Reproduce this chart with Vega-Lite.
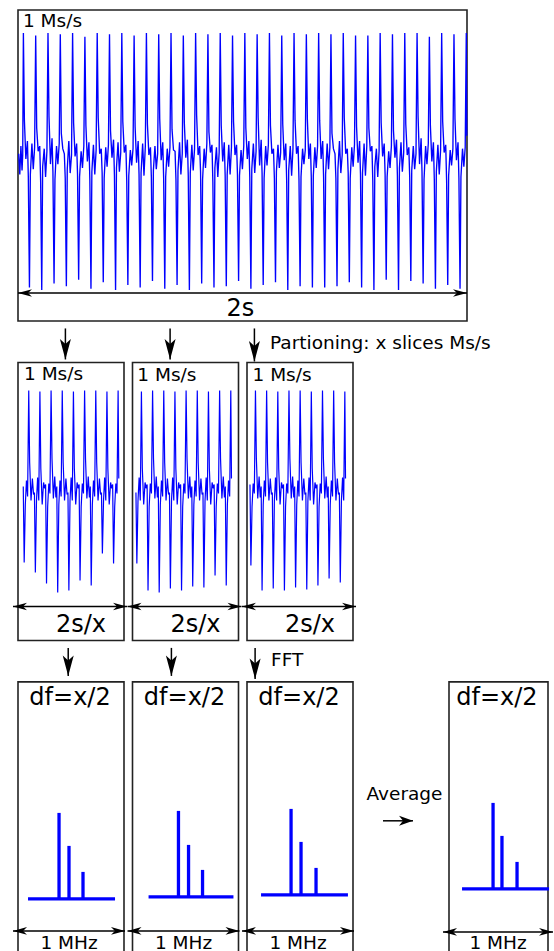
{
"padding": {"left": 11, "top": 9, "right": 0, "bottom": 0},
"background": "white",
"spacing": 4.45,
"datasets": {
"top": [
{"t":3,"v":0.06},{"t":8,"v":-0.1},{"t":13,"v":0.12},{"t":18,"v":-0.07},{"t":21,"v":0.05},
{"t":24,"v":1},{"t":28.5,"v":0.32},{"t":35,"v":0.02},{"t":42,"v":0.16},{"t":46,"v":-0.12},{"t":51,"v":-0.98},{"t":55,"v":-0.1},{"t":62,"v":0.14},{"t":68,"v":-0.06},{"t":74,"v":0.11},
{"t":78.8,"v":0.98},{"t":83.3,"v":0.26},{"t":89.8,"v":0.08},{"t":96.8,"v":0.12},{"t":100.8,"v":-0.15},{"t":105.8,"v":-1},{"t":109.8,"v":-0.04},{"t":116.8,"v":0.1},{"t":122.8,"v":-0.12},{"t":128.8,"v":0.08},
{"t":133.6,"v":1},{"t":138.1,"v":0.35},{"t":144.6,"v":-0.02},{"t":151.6,"v":0.18},{"t":155.6,"v":-0.08},{"t":160.6,"v":-0.95},{"t":164.6,"v":-0.14},{"t":171.6,"v":0.12},{"t":177.6,"v":-0.02},{"t":183.6,"v":0.14},
{"t":188.4,"v":0.99},{"t":192.9,"v":0.22},{"t":199.4,"v":0.1},{"t":206.4,"v":0.06},{"t":210.4,"v":-0.13},{"t":215.4,"v":-0.97},{"t":219.4,"v":-0.06},{"t":226.4,"v":0.16},{"t":232.4,"v":-0.09},{"t":238.4,"v":0.05},
{"t":243.2,"v":1},{"t":247.7,"v":0.3},{"t":254.2,"v":0.04},{"t":261.2,"v":0.14},{"t":265.2,"v":-0.1},{"t":270.2,"v":-0.92},{"t":274.2,"v":-0.12},{"t":281.2,"v":0.08},{"t":287.2,"v":-0.05},{"t":293.2,"v":0.12},
{"t":298,"v":0.97},{"t":302.5,"v":0.28},{"t":309,"v":0},{"t":316,"v":0.15},{"t":320,"v":-0.14},{"t":325,"v":-0.99},{"t":329,"v":-0.08},{"t":336,"v":0.13},{"t":342,"v":-0.1},{"t":348,"v":0.09},
{"t":352.8,"v":1},{"t":357.3,"v":0.34},{"t":363.8,"v":0.06},{"t":370.8,"v":0.1},{"t":374.8,"v":-0.09},{"t":379.8,"v":-0.94},{"t":383.8,"v":-0.13},{"t":390.8,"v":0.11},{"t":396.8,"v":-0.04},{"t":402.8,"v":0.13},
{"t":407.6,"v":0.99},{"t":412.1,"v":0.24},{"t":418.6,"v":0.03},{"t":425.6,"v":0.17},{"t":429.6,"v":-0.11},{"t":434.6,"v":-1},{"t":438.6,"v":-0.05},{"t":445.6,"v":0.15},{"t":451.6,"v":-0.08},{"t":457.6,"v":0.07},
{"t":462.4,"v":1},{"t":466.9,"v":0.31},{"t":473.4,"v":0.07},{"t":480.4,"v":0.13},{"t":484.4,"v":-0.15},{"t":489.4,"v":-0.96},{"t":493.4,"v":-0.11},{"t":500.4,"v":0.09},{"t":506.4,"v":-0.03},{"t":512.4,"v":0.1},
{"t":517.2,"v":0.98},{"t":521.7,"v":0.27},{"t":528.2,"v":-0.01},{"t":535.2,"v":0.16},{"t":539.2,"v":-0.1},{"t":544.2,"v":-0.98},{"t":548.2,"v":-0.09},{"t":555.2,"v":0.14},{"t":561.2,"v":-0.11},{"t":567.2,"v":0.12},
{"t":572,"v":1},{"t":576.5,"v":0.29},{"t":583,"v":0.05},{"t":590,"v":0.11},{"t":594,"v":-0.12},{"t":599,"v":-0.93},{"t":603,"v":-0.07},{"t":610,"v":0.12},{"t":616,"v":-0.06},{"t":622,"v":0.06},
{"t":626.8,"v":0.99},{"t":631.3,"v":0.33},{"t":637.8,"v":0.01},{"t":644.8,"v":0.15},{"t":648.8,"v":-0.13},{"t":653.8,"v":-0.99},{"t":657.8,"v":-0.12},{"t":664.8,"v":0.1},{"t":670.8,"v":-0.04},{"t":676.8,"v":0.11},
{"t":681.6,"v":1},{"t":686.1,"v":0.25},{"t":692.6,"v":0.09},{"t":699.6,"v":0.08},{"t":703.6,"v":-0.14},{"t":708.6,"v":-0.96},{"t":712.6,"v":-0.07},{"t":719.6,"v":0.15},{"t":725.6,"v":-0.1},{"t":731.6,"v":0.06},
{"t":736.4,"v":0.98},{"t":740.9,"v":0.3},{"t":747.4,"v":0.03},{"t":754.4,"v":0.17},{"t":758.4,"v":-0.11},{"t":763.4,"v":-1},{"t":767.4,"v":-0.09},{"t":774.4,"v":0.13},{"t":780.4,"v":-0.07},{"t":786.4,"v":0.1},
{"t":791.2,"v":1},{"t":795.7,"v":0.36},{"t":802.2,"v":0.05},{"t":809.2,"v":0.12},{"t":813.2,"v":-0.08},{"t":818.2,"v":-0.95},{"t":822.2,"v":-0.14},{"t":829.2,"v":0.1},{"t":835.2,"v":-0.05},{"t":841.2,"v":0.14},
{"t":846,"v":0.99},{"t":850.5,"v":0.23},{"t":857,"v":0.07},{"t":864,"v":0.13},{"t":868,"v":-0.16},{"t":873,"v":-0.98},{"t":877,"v":-0.05},{"t":884,"v":0.11},{"t":890,"v":-0.12},{"t":896,"v":0.07},
{"t":900.8,"v":1},{"t":905.3,"v":0.28},{"t":911.8,"v":0},{"t":918.8,"v":0.15},{"t":922.8,"v":-0.11},{"t":927.8,"v":-0.97},{"t":931.8,"v":-0.1},{"t":938.8,"v":0.13},{"t":944.8,"v":-0.1},{"t":950.8,"v":0.11},
{"t":955.6,"v":0.98},{"t":960.1,"v":0.31},{"t":966.6,"v":0.05},{"t":973.6,"v":0.13},{"t":977.6,"v":-0.1},{"t":982.6,"v":-0.93},{"t":986.6,"v":-0.11},{"t":993.6,"v":0.09},{"t":999.6,"v":-0.06},{"t":1005.6,"v":0.12},
{"t":1010.4,"v":1},{"t":1014.9,"v":0.26},{"t":1021.4,"v":0.02},{"t":1028.4,"v":0.16},{"t":1032.4,"v":-0.12},{"t":1037.4,"v":-0.99},{"t":1041.4,"v":-0.06},{"t":1048.4,"v":0.14},{"t":1054.4,"v":-0.09},{"t":1060.4,"v":0.08},
{"t":1065.2,"v":0.99},{"t":1069.7,"v":0.34},{"t":1076.2,"v":-0.03},{"t":1083.2,"v":0.17},{"t":1087.2,"v":-0.09},{"t":1092.2,"v":-0.96},{"t":1096.2,"v":-0.13},{"t":1103.2,"v":0.12},{"t":1109.2,"v":-0.03},{"t":1115.2,"v":0.13},
{"t":1120,"v":1},{"t":1124.5,"v":0.28},{"t":1131,"v":0.06},{"t":1138,"v":0.1},{"t":1142,"v":-0.13},{"t":1147,"v":-0.94},{"t":1151,"v":-0.08},{"t":1158,"v":0.13},{"t":1164,"v":-0.05},{"t":1170,"v":0.07},
{"t":1174.8,"v":0.98},{"t":1179.3,"v":0.29},{"t":1185.8,"v":0.01},{"t":1192.8,"v":0.14},{"t":1196.8,"v":-0.15},{"t":1201.8,"v":-1},{"t":1205.8,"v":-0.07},{"t":1212.8,"v":0.12},{"t":1218.8,"v":-0.11},{"t":1224.8,"v":0.1},
{"t":1229.6,"v":1},{"t":1234.1,"v":0.32},{"t":1240.6,"v":0.06},{"t":1247.6,"v":0.12},{"t":1251.6,"v":-0.14},{"t":1256.6,"v":-0.97},{"t":1260.6,"v":-0.12},{"t":1267.6,"v":0.1},{"t":1273.6,"v":-0.02},{"t":1279.6,"v":0.09},
{"t":1284.4,"v":0.99},{"t":1288.9,"v":0.33},{"t":1295.4,"v":0.02},{"t":1302.4,"v":0.14},{"t":1306.4,"v":-0.12},{"t":1311.4,"v":-0.98},{"t":1315.4,"v":-0.11},{"t":1322.4,"v":0.11},{"t":1328.4,"v":-0.05},{"t":1334.4,"v":0.12},
{"t":1339.2,"v":1},{"t":1343.7,"v":0.32},{"t":1350.2,"v":0.02},{"t":1357.2,"v":0.16},{"t":1361.2,"v":-0.12},{"t":1366.2,"v":-0.98},{"t":1370.2,"v":-0.1},{"t":1377.2,"v":0.14},{"t":1383.2,"v":-0.06},{"t":1389.2,"v":0.11},
{"t":1394,"v":0.99},{"t":1398.5,"v":0.22},{"t":1405,"v":0.1},{"t":1412,"v":0.06},{"t":1416,"v":-0.13},{"t":1421,"v":-0.97},{"t":1425,"v":-0.06},{"t":1432,"v":0.16},{"t":1438,"v":-0.09},{"t":1444,"v":0.05},
{"t":1448.8,"v":1},{"t":1453.3,"v":0.34},{"t":1459.8,"v":0.06},{"t":1466.8,"v":0.1},{"t":1470.8,"v":-0.09},{"t":1475.8,"v":-0.94},{"t":1479.8,"v":-0.13},{"t":1486.8,"v":0.11},{"t":1492.8,"v":-0.04},{"t":1498.8,"v":0.13},
{"t":1503.6,"v":0.98},{"t":1508.1,"v":0.27},{"t":1514.6,"v":-0.01},{"t":1521.6,"v":0.16},{"t":1525.6,"v":-0.1},{"t":1530.6,"v":-0.98},{"t":1534.6,"v":-0.09},{"t":1541.6,"v":0.14},{"t":1547.6,"v":-0.11},{"t":1553.6,"v":0.12},
{"t":1558.4,"v":0.98},{"t":1562.9,"v":0.26},{"t":1569.4,"v":0.08},{"t":1576.4,"v":0.12},{"t":1580.4,"v":-0.15},{"t":1585.4,"v":-1},{"t":1589.4,"v":-0.04},{"t":1596.4,"v":0.1},{"t":1602.4,"v":-0.12},{"t":1608.4,"v":0.08},
{"t":1613.2,"v":1},{"t":1617.7,"v":0.3},{"t":1624.2,"v":0.04},{"t":1631.2,"v":0.14},{"t":1635.2,"v":-0.1},{"t":1640.2,"v":-0.92},{"t":1644.2,"v":-0.12},{"t":1651.2,"v":0.08},{"t":1657.2,"v":-0.05},{"t":1663.2,"v":0.12},
{"t":1668,"v":0.99},{"t":1672.5,"v":0.24},{"t":1679,"v":0.03},{"t":1686,"v":0.17},{"t":1690,"v":-0.11},{"t":1695,"v":-1},{"t":1699,"v":-0.05},{"t":1706,"v":0.15},{"t":1712,"v":-0.08},{"t":1718,"v":0.07},
{"t":1722.8,"v":1},{"t":1727.3,"v":0.29},{"t":1733.8,"v":0.05},{"t":1740.8,"v":0.11},{"t":1744.8,"v":-0.12},{"t":1749.8,"v":-0.93},{"t":1753.8,"v":-0.07},{"t":1760.8,"v":0.12},{"t":1766.8,"v":-0.06},{"t":1772.8,"v":0.06},
{"t":1777.6,"v":1},{"t":1782.1,"v":0.35},{"t":1788.6,"v":-0.02},{"t":1795.6,"v":0.18},{"t":1799.6,"v":-0.08},{"t":1804.6,"v":-0.95},{"t":1808.6,"v":-0.14},{"t":1815.6,"v":0.12},{"t":1821.6,"v":-0.02},{"t":1827.6,"v":0.14},
{"t":1832.4,"v":0.97},{"t":1836.9,"v":0.28},{"t":1843.4,"v":0},{"t":1850.4,"v":0.15},{"t":1854.4,"v":-0.14},{"t":1859.4,"v":-0.99},{"t":1863.4,"v":-0.08},{"t":1870.4,"v":0.13},{"t":1876.4,"v":-0.1},{"t":1882.4,"v":0.09},
{"t":1887.2,"v":1},{"t":1891.7,"v":0.31},{"t":1898.2,"v":0.07},{"t":1905.2,"v":0.13},{"t":1909.2,"v":-0.15},{"t":1914.2,"v":-0.96},{"t":1918.2,"v":-0.11},{"t":1925.2,"v":0.09},{"t":1931.2,"v":-0.03},{"t":1937.2,"v":0.1},
{"t":1942,"v":0.99},{"t":1946.5,"v":0.33},{"t":1953,"v":0.01},{"t":1960,"v":0.15},{"t":1964,"v":-0.13},{"t":1969,"v":-0.99},{"t":1973,"v":-0.12},{"t":1980,"v":0.1},{"t":1986,"v":-0.04},{"t":1992,"v":0.11},
{"t":1996.8,"v":1},{"t":1999,"v":0.2}
],
"slices": [
{"s":1,"t":45,"v":0.04},{"s":1,"t":49,"v":-0.72},{"s":1,"t":54,"v":-0.14},{"s":1,"t":59,"v":0.1},{"s":1,"t":64,"v":-0.06},{"s":1,"t":69,"v":1},{"s":1,"t":73,"v":0.28},{"s":1,"t":79,"v":-0.1},{"s":1,"t":85,"v":0.12},{"s":1,"t":90,"v":-0.04},
{"s":1,"t":94,"v":-0.02},{"s":1,"t":98,"v":-0.82},{"s":1,"t":103,"v":-0.1},{"s":1,"t":108,"v":0.13},{"s":1,"t":113,"v":-0.1},{"s":1,"t":118,"v":0.99},{"s":1,"t":122,"v":0.22},{"s":1,"t":128,"v":-0.14},{"s":1,"t":134,"v":0.08},{"s":1,"t":139,"v":0.02},
{"s":1,"t":143,"v":0.06},{"s":1,"t":147,"v":-0.93},{"s":1,"t":152,"v":-0.16},{"s":1,"t":157,"v":0.07},{"s":1,"t":162,"v":-0.03},{"s":1,"t":167,"v":1},{"s":1,"t":171,"v":0.32},{"s":1,"t":177,"v":-0.08},{"s":1,"t":183,"v":0.14},{"s":1,"t":188,"v":-0.07},
{"s":1,"t":192,"v":0.04},{"s":1,"t":196,"v":-1.02},{"s":1,"t":201,"v":-0.14},{"s":1,"t":206,"v":0.1},{"s":1,"t":211,"v":-0.06},{"s":1,"t":216,"v":1},{"s":1,"t":220,"v":0.28},{"s":1,"t":226,"v":-0.1},{"s":1,"t":232,"v":0.12},{"s":1,"t":237,"v":-0.04},
{"s":1,"t":241,"v":-0.02},{"s":1,"t":245,"v":-1},{"s":1,"t":250,"v":-0.1},{"s":1,"t":255,"v":0.13},{"s":1,"t":260,"v":-0.1},{"s":1,"t":265,"v":0.99},{"s":1,"t":269,"v":0.22},{"s":1,"t":275,"v":-0.14},{"s":1,"t":281,"v":0.08},{"s":1,"t":286,"v":0.02},
{"s":1,"t":290,"v":0.06},{"s":1,"t":294,"v":-0.9},{"s":1,"t":299,"v":-0.16},{"s":1,"t":304,"v":0.07},{"s":1,"t":309,"v":-0.03},{"s":1,"t":314,"v":1},{"s":1,"t":318,"v":0.32},{"s":1,"t":324,"v":-0.08},{"s":1,"t":330,"v":0.14},{"s":1,"t":335,"v":-0.07},
{"s":1,"t":339,"v":0.04},{"s":1,"t":343,"v":-0.95},{"s":1,"t":348,"v":-0.14},{"s":1,"t":353,"v":0.1},{"s":1,"t":358,"v":-0.06},{"s":1,"t":363,"v":1},{"s":1,"t":367,"v":0.28},{"s":1,"t":373,"v":-0.1},{"s":1,"t":379,"v":0.12},{"s":1,"t":384,"v":-0.04},
{"s":1,"t":388,"v":-0.02},{"s":1,"t":392,"v":-0.63},{"s":1,"t":397,"v":-0.1},{"s":1,"t":402,"v":0.13},{"s":1,"t":407,"v":-0.1},{"s":1,"t":412,"v":0.99},{"s":1,"t":416,"v":0.22},{"s":1,"t":422,"v":-0.14},{"s":1,"t":428,"v":0.08},{"s":1,"t":433,"v":0.02},
{"s":1,"t":437,"v":0.06},{"s":1,"t":441,"v":-0.73},{"s":1,"t":446,"v":-0.16},{"s":1,"t":451,"v":0.07},{"s":1,"t":456,"v":-0.03},{"s":1,"t":461,"v":1},{"s":1,"t":464,"v":0.12},
{"s":2,"t":537,"v":-0.02},{"s":2,"t":541,"v":-0.73},{"s":2,"t":546,"v":-0.1},{"s":2,"t":551,"v":0.13},{"s":2,"t":556,"v":-0.1},{"s":2,"t":561,"v":0.99},{"s":2,"t":565,"v":0.22},{"s":2,"t":571,"v":-0.14},{"s":2,"t":577,"v":0.08},{"s":2,"t":582,"v":0.02},
{"s":2,"t":586,"v":0.06},{"s":2,"t":590,"v":-1},{"s":2,"t":595,"v":-0.16},{"s":2,"t":600,"v":0.07},{"s":2,"t":605,"v":-0.03},{"s":2,"t":610,"v":1},{"s":2,"t":614,"v":0.32},{"s":2,"t":620,"v":-0.08},{"s":2,"t":626,"v":0.14},{"s":2,"t":631,"v":-0.07},
{"s":2,"t":635,"v":0.04},{"s":2,"t":639,"v":-1.02},{"s":2,"t":644,"v":-0.14},{"s":2,"t":649,"v":0.1},{"s":2,"t":654,"v":-0.06},{"s":2,"t":659,"v":1},{"s":2,"t":663,"v":0.28},{"s":2,"t":669,"v":-0.1},{"s":2,"t":675,"v":0.12},{"s":2,"t":680,"v":-0.04},
{"s":2,"t":684,"v":-0.02},{"s":2,"t":688,"v":-0.98},{"s":2,"t":693,"v":-0.1},{"s":2,"t":698,"v":0.13},{"s":2,"t":703,"v":-0.1},{"s":2,"t":708,"v":0.99},{"s":2,"t":712,"v":0.22},{"s":2,"t":718,"v":-0.14},{"s":2,"t":724,"v":0.08},{"s":2,"t":729,"v":0.02},
{"s":2,"t":733,"v":0.06},{"s":2,"t":737,"v":-1},{"s":2,"t":742,"v":-0.16},{"s":2,"t":747,"v":0.07},{"s":2,"t":752,"v":-0.03},{"s":2,"t":757,"v":1},{"s":2,"t":761,"v":0.32},{"s":2,"t":767,"v":-0.08},{"s":2,"t":773,"v":0.14},{"s":2,"t":778,"v":-0.07},
{"s":2,"t":782,"v":0.04},{"s":2,"t":786,"v":-0.96},{"s":2,"t":791,"v":-0.14},{"s":2,"t":796,"v":0.1},{"s":2,"t":801,"v":-0.06},{"s":2,"t":806,"v":1},{"s":2,"t":810,"v":0.28},{"s":2,"t":816,"v":-0.1},{"s":2,"t":822,"v":0.12},{"s":2,"t":827,"v":-0.04},
{"s":2,"t":831,"v":-0.02},{"s":2,"t":835,"v":-0.97},{"s":2,"t":840,"v":-0.1},{"s":2,"t":845,"v":0.13},{"s":2,"t":850,"v":-0.1},{"s":2,"t":855,"v":0.99},{"s":2,"t":859,"v":0.22},{"s":2,"t":865,"v":-0.14},{"s":2,"t":871,"v":0.08},{"s":2,"t":876,"v":0.02},
{"s":2,"t":880,"v":0.06},{"s":2,"t":884,"v":-0.85},{"s":2,"t":889,"v":-0.16},{"s":2,"t":894,"v":0.07},{"s":2,"t":899,"v":-0.03},{"s":2,"t":904,"v":1},{"s":2,"t":908,"v":0.32},{"s":2,"t":914,"v":-0.08},{"s":2,"t":920,"v":0.14},{"s":2,"t":925,"v":-0.07},
{"s":2,"t":929,"v":0.04},{"s":2,"t":933,"v":-0.95},{"s":2,"t":938,"v":-0.14},{"s":2,"t":943,"v":0.1},{"s":2,"t":948,"v":-0.06},{"s":2,"t":953,"v":1},{"s":2,"t":956,"v":0.12},
{"s":3,"t":1035,"v":0.06},{"s":3,"t":1039,"v":-0.75},{"s":3,"t":1044,"v":-0.16},{"s":3,"t":1049,"v":0.07},{"s":3,"t":1054,"v":-0.03},{"s":3,"t":1059,"v":1},{"s":3,"t":1063,"v":0.32},{"s":3,"t":1069,"v":-0.08},{"s":3,"t":1075,"v":0.14},{"s":3,"t":1080,"v":-0.07},
{"s":3,"t":1084,"v":0.04},{"s":3,"t":1088,"v":-1},{"s":3,"t":1093,"v":-0.14},{"s":3,"t":1098,"v":0.1},{"s":3,"t":1103,"v":-0.06},{"s":3,"t":1108,"v":1},{"s":3,"t":1112,"v":0.28},{"s":3,"t":1118,"v":-0.1},{"s":3,"t":1124,"v":0.12},{"s":3,"t":1129,"v":-0.04},
{"s":3,"t":1133,"v":-0.02},{"s":3,"t":1137,"v":-0.98},{"s":3,"t":1142,"v":-0.1},{"s":3,"t":1147,"v":0.13},{"s":3,"t":1152,"v":-0.1},{"s":3,"t":1157,"v":0.99},{"s":3,"t":1161,"v":0.22},{"s":3,"t":1167,"v":-0.14},{"s":3,"t":1173,"v":0.08},{"s":3,"t":1178,"v":0.02},
{"s":3,"t":1182,"v":0.06},{"s":3,"t":1186,"v":-1},{"s":3,"t":1191,"v":-0.16},{"s":3,"t":1196,"v":0.07},{"s":3,"t":1201,"v":-0.03},{"s":3,"t":1206,"v":1},{"s":3,"t":1210,"v":0.32},{"s":3,"t":1216,"v":-0.08},{"s":3,"t":1222,"v":0.14},{"s":3,"t":1227,"v":-0.07},
{"s":3,"t":1231,"v":0.04},{"s":3,"t":1235,"v":-0.97},{"s":3,"t":1240,"v":-0.14},{"s":3,"t":1245,"v":0.1},{"s":3,"t":1250,"v":-0.06},{"s":3,"t":1255,"v":1},{"s":3,"t":1259,"v":0.28},{"s":3,"t":1265,"v":-0.1},{"s":3,"t":1271,"v":0.12},{"s":3,"t":1276,"v":-0.04},
{"s":3,"t":1280,"v":-0.02},{"s":3,"t":1284,"v":-0.99},{"s":3,"t":1289,"v":-0.1},{"s":3,"t":1294,"v":0.13},{"s":3,"t":1299,"v":-0.1},{"s":3,"t":1304,"v":0.99},{"s":3,"t":1308,"v":0.22},{"s":3,"t":1314,"v":-0.14},{"s":3,"t":1320,"v":0.08},{"s":3,"t":1325,"v":0.02},
{"s":3,"t":1329,"v":0.06},{"s":3,"t":1333,"v":-0.95},{"s":3,"t":1338,"v":-0.16},{"s":3,"t":1343,"v":0.07},{"s":3,"t":1348,"v":-0.03},{"s":3,"t":1353,"v":1},{"s":3,"t":1357,"v":0.32},{"s":3,"t":1363,"v":-0.08},{"s":3,"t":1369,"v":0.14},{"s":3,"t":1374,"v":-0.07},
{"s":3,"t":1378,"v":0.04},{"s":3,"t":1382,"v":-0.88},{"s":3,"t":1387,"v":-0.14},{"s":3,"t":1392,"v":0.1},{"s":3,"t":1397,"v":-0.06},{"s":3,"t":1402,"v":1},{"s":3,"t":1406,"v":0.28},{"s":3,"t":1412,"v":-0.1},{"s":3,"t":1418,"v":0.12},{"s":3,"t":1423,"v":-0.04},
{"s":3,"t":1427,"v":-0.02},{"s":3,"t":1431,"v":-0.92},{"s":3,"t":1436,"v":-0.1},{"s":3,"t":1441,"v":0.13},{"s":3,"t":1446,"v":-0.1},{"s":3,"t":1451,"v":0.99},{"s":3,"t":1454,"v":0.12}
],
"floors": [
{"p":1,"f":0.134,"f2":0.911,"m":0},
{"p":2,"f":0.188,"f2":0.946,"m":0.02},
{"p":3,"f":0.17,"f2":0.946,"m":0.04},
{"p":4,"f":0.173,"f2":0.964,"m":0.1}
],
"peaks": [
{"p":1,"f":0.411,"m":0,"m2":0.86},{"p":1,"f":0.5,"m":0,"m2":0.53},{"p":1,"f":0.625,"m":0,"m2":0.27},
{"p":2,"f":0.455,"m":0.02,"m2":0.88},{"p":2,"f":0.545,"m":0.02,"m2":0.54},{"p":2,"f":0.67,"m":0.02,"m2":0.29},
{"p":3,"f":0.438,"m":0.04,"m2":0.9},{"p":3,"f":0.527,"m":0.04,"m2":0.57},{"p":3,"f":0.661,"m":0.04,"m2":0.31},
{"p":4,"f":0.455,"m":0.1,"m2":0.96},{"p":4,"f":0.536,"m":0.1,"m2":0.63},{"p":4,"f":0.673,"m":0.1,"m2":0.37}
]
},
"vconcat": [
{
"width": 449, "height": 311,
"encoding": {
"x": {"field": "t", "type": "quantitative", "axis": null, "scale": {"domain": [0, 2000], "nice": false, "zero": false}},
"y": {"field": "v", "type": "quantitative", "axis": null, "scale": {"domain": [-1.241, 1.179], "nice": false, "zero": false}}
},
"layer": [
{"data": {"name": "top"}, "mark": {"type": "line", "color": "#0000ff", "strokeWidth": 1.35}},
{"data": {"values": [{"t": -22.3, "t2": 0, "v": -1.023}]}, "mark": {"type": "rule", "color": "white", "opacity": 0, "strokeWidth": 1.5}, "encoding": {"x2": {"field": "t2"}}},
{"data": {"values": [{"t": 0, "t2": 2000, "v": -1.023}]}, "mark": {"type": "rule", "color": "black", "strokeWidth": 1.5}, "encoding": {"x2": {"field": "t2"}}},
{"data": {"values": [{"t": 0, "v": -1.023, "end": "L"}, {"t": 2000, "v": -1.023, "end": "R"}]}, "mark": {"type": "point", "filled": true, "size": 400, "color": "black", "opacity": 1, "strokeWidth": 0}, "encoding": {"shape": {"field": "end", "type": "nominal", "legend": null, "scale": {"domain": ["L", "R", "D", "A"], "range": ["M0,0L1.4,-0.38L1,0L1.4,0.38Z", "M0,0L-1.4,-0.38L-1,0L-1.4,0.38Z", "M0,0L-0.55,-2.05L0,-1.55L0.55,-2.05Z", "M0,0L-1.4,-0.5L-1,0L-1.4,0.5Z"]}}}},
{"data": {"values": [{"t": 22, "v": 1.093, "label": "1 Ms/s"}]}, "mark": {"type": "text", "align": "left", "baseline": "middle", "fontSize": 18.5, "color": "black"}, "encoding": {"text": {"field": "label"}}},
{"data": {"values": [{"t": 991, "v": -1.148, "label": "2s"}]}, "mark": {"type": "text", "align": "center", "baseline": "middle", "fontSize": 24, "color": "black"}, "encoding": {"text": {"field": "label"}}}
]
},
{
"hconcat": [
{
"width": 106, "height": 278,
"encoding": {
"x": {"field": "t", "type": "quantitative", "axis": null, "scale": {"domain": [21.9, 486.8], "nice": false, "zero": false}},
"y": {"field": "v", "type": "quantitative", "axis": null, "scale": {"domain": [-1.5, 1.28], "nice": false, "zero": false}}
},
"layer": [
{"data": {"name": "slices"}, "transform": [{"filter": "datum.s == 1"}], "mark": {"type": "line", "color": "#0000ff", "strokeWidth": 1.2}},
{"data": {"values": [{"t": 0, "t2": 500, "v": -1.16}]}, "mark": {"type": "rule", "color": "black", "strokeWidth": 1.5}, "encoding": {"x2": {"field": "t2"}}},
{"data": {"values": [{"t": 229.8, "v": 1.62, "v2": 1.31}]}, "mark": {"type": "rule", "color": "black", "strokeWidth": 1.5}, "encoding": {"y2": {"field": "v2"}}},
{"data": {"values": [{"t": 0, "v": -1.16, "end": "L"}, {"t": 500, "v": -1.16, "end": "R"}, {"t": 229.8, "v": 1.31, "end": "D"}]}, "mark": {"type": "point", "filled": true, "size": 400, "color": "black", "opacity": 1, "strokeWidth": 0}, "encoding": {"shape": {"field": "end", "type": "nominal", "legend": null, "scale": {"domain": ["L", "R", "D", "A"], "range": ["M0,0L1.4,-0.38L1,0L1.4,0.38Z", "M0,0L-1.4,-0.38L-1,0L-1.4,0.38Z", "M0,0L-0.55,-2.05L0,-1.55L0.55,-2.05Z", "M0,0L-1.4,-0.5L-1,0L-1.4,0.5Z"]}}}},
{"data": {"values": [{"t": 48.2, "v": 1.16, "label": "1 Ms/s"}]}, "mark": {"type": "text", "align": "left", "baseline": "middle", "fontSize": 18.5, "color": "black"}, "encoding": {"text": {"field": "label"}}},
{"data": {"values": [{"t": 298, "v": -1.35, "label": "2s/x"}]}, "mark": {"type": "text", "align": "center", "baseline": "middle", "fontSize": 24, "color": "black"}, "encoding": {"text": {"field": "label"}}}
]
},
{
"width": 106, "height": 278,
"encoding": {
"x": {"field": "t", "type": "quantitative", "axis": null, "scale": {"domain": [521.9, 986.8], "nice": false, "zero": false}},
"y": {"field": "v", "type": "quantitative", "axis": null, "scale": {"domain": [-1.5, 1.28], "nice": false, "zero": false}}
},
"layer": [
{"data": {"name": "slices"}, "transform": [{"filter": "datum.s == 2"}], "mark": {"type": "line", "color": "#0000ff", "strokeWidth": 1.2}},
{"data": {"values": [{"t": 500, "t2": 1000, "v": -1.16}]}, "mark": {"type": "rule", "color": "black", "strokeWidth": 1.5}, "encoding": {"x2": {"field": "t2"}}},
{"data": {"values": [{"t": 686.8, "v": 1.62, "v2": 1.31}]}, "mark": {"type": "rule", "color": "black", "strokeWidth": 1.5}, "encoding": {"y2": {"field": "v2"}}},
{"data": {"values": [{"t": 500, "v": -1.16, "end": "L"}, {"t": 1000, "v": -1.16, "end": "R"}, {"t": 686.8, "v": 1.31, "end": "D"}]}, "mark": {"type": "point", "filled": true, "size": 400, "color": "black", "opacity": 1, "strokeWidth": 0}, "encoding": {"shape": {"field": "end", "type": "nominal", "legend": null, "scale": {"domain": ["L", "R", "D", "A"], "range": ["M0,0L1.4,-0.38L1,0L1.4,0.38Z", "M0,0L-1.4,-0.38L-1,0L-1.4,0.38Z", "M0,0L-0.55,-2.05L0,-1.55L0.55,-2.05Z", "M0,0L-1.4,-0.5L-1,0L-1.4,0.5Z"]}}}},
{"data": {"values": [{"t": 543, "v": 1.15, "label": "1 Ms/s"}]}, "mark": {"type": "text", "align": "left", "baseline": "middle", "fontSize": 18.5, "color": "black"}, "encoding": {"text": {"field": "label"}}},
{"data": {"values": [{"t": 798, "v": -1.35, "label": "2s/x"}]}, "mark": {"type": "text", "align": "center", "baseline": "middle", "fontSize": 24, "color": "black"}, "encoding": {"text": {"field": "label"}}}
]
},
{
"width": 106, "height": 278,
"encoding": {
"x": {"field": "t", "type": "quantitative", "axis": null, "scale": {"domain": [1021.9, 1486.8], "nice": false, "zero": false}},
"y": {"field": "v", "type": "quantitative", "axis": null, "scale": {"domain": [-1.5, 1.28], "nice": false, "zero": false}}
},
"layer": [
{"data": {"name": "slices"}, "transform": [{"filter": "datum.s == 3"}], "mark": {"type": "line", "color": "#0000ff", "strokeWidth": 1.2}},
{"data": {"values": [{"t": 1000, "t2": 1500, "v": -1.16}]}, "mark": {"type": "rule", "color": "black", "strokeWidth": 1.5}, "encoding": {"x2": {"field": "t2"}}},
{"data": {"values": [{"t": 1054.4, "v": 1.62, "v2": 1.29}]}, "mark": {"type": "rule", "color": "black", "strokeWidth": 1.5}, "encoding": {"y2": {"field": "v2"}}},
{"data": {"values": [{"t": 1000, "v": -1.16, "end": "L"}, {"t": 1500, "v": -1.16, "end": "R"}, {"t": 1054.4, "v": 1.29, "end": "D"}]}, "mark": {"type": "point", "filled": true, "size": 400, "color": "black", "opacity": 1, "strokeWidth": 0}, "encoding": {"shape": {"field": "end", "type": "nominal", "legend": null, "scale": {"domain": ["L", "R", "D", "A"], "range": ["M0,0L1.4,-0.38L1,0L1.4,0.38Z", "M0,0L-1.4,-0.38L-1,0L-1.4,0.38Z", "M0,0L-0.55,-2.05L0,-1.55L0.55,-2.05Z", "M0,0L-1.4,-0.5L-1,0L-1.4,0.5Z"]}}}},
{"data": {"values": [{"t": 1046, "v": 1.15, "label": "1 Ms/s"}]}, "mark": {"type": "text", "align": "left", "baseline": "middle", "fontSize": 18.5, "color": "black"}, "encoding": {"text": {"field": "label"}}},
{"data": {"values": [{"t": 1298, "v": -1.35, "label": "2s/x"}]}, "mark": {"type": "text", "align": "center", "baseline": "middle", "fontSize": 24, "color": "black"}, "encoding": {"text": {"field": "label"}}},
{"data": {"values": [{"t": 1122.8, "v": 1.47, "label": "Partioning: x slices Ms/s"}]}, "mark": {"type": "text", "align": "left", "baseline": "middle", "fontSize": 18.5, "color": "black"}, "encoding": {"text": {"field": "label"}}}
]
}
],
"spacing": 8.5,
"bounds": "flush"
},
{
"hconcat": [
{
"width": 106, "height": 290,
"encoding": {
"x": {"field": "f", "type": "quantitative", "axis": null, "scale": {"domain": [0.0446, 0.9911], "nice": false, "zero": false}},
"y": {"field": "m", "type": "quantitative", "axis": null, "scale": {"domain": [-0.73, 2.17], "nice": false, "zero": false}}
},
"layer": [
{"data": {"name": "floors"}, "transform": [{"filter": "datum.p == 1"}], "mark": {"type": "rule", "color": "#0000ff", "strokeWidth": 3.3}, "encoding": {"x2": {"field": "f2"}}},
{"data": {"name": "peaks"}, "transform": [{"filter": "datum.p == 1"}], "mark": {"type": "rule", "color": "#0000ff", "strokeWidth": 3.3}, "encoding": {"y2": {"field": "m2"}}},
{"data": {"values": [{"f": 0, "f2": 1, "m": -0.32}]}, "mark": {"type": "rule", "color": "black", "strokeWidth": 1.5}, "encoding": {"x2": {"field": "f2"}}},
{"data": {"values": [{"f": 0.493, "m": 2.51, "m2": 2.23}]}, "mark": {"type": "rule", "color": "black", "strokeWidth": 1.5}, "encoding": {"y2": {"field": "m2"}}},
{"data": {"values": [{"f": 0, "m": -0.32, "end": "L"}, {"f": 1, "m": -0.32, "end": "R"}, {"f": 0.493, "m": 2.23, "end": "D"}]}, "mark": {"type": "point", "filled": true, "size": 400, "color": "black", "opacity": 1, "strokeWidth": 0}, "encoding": {"shape": {"field": "end", "type": "nominal", "legend": null, "scale": {"domain": ["L", "R", "D", "A"], "range": ["M0,0L1.4,-0.38L1,0L1.4,0.38Z", "M0,0L-1.4,-0.38L-1,0L-1.4,0.38Z", "M0,0L-0.55,-2.05L0,-1.55L0.55,-2.05Z", "M0,0L-1.4,-0.5L-1,0L-1.4,0.5Z"]}}}},
{"data": {"values": [{"f": 0.509, "m": 2.01, "label": "df=x/2"}]}, "mark": {"type": "text", "align": "center", "baseline": "middle", "fontSize": 24, "color": "black"}, "encoding": {"text": {"field": "label"}}},
{"data": {"values": [{"f": 0.5, "m": -0.44, "label": "1 MHz"}]}, "mark": {"type": "text", "align": "center", "baseline": "middle", "fontSize": 18.5, "color": "black"}, "encoding": {"text": {"field": "label"}}}
]
},
{
"width": 106, "height": 290,
"encoding": {
"x": {"field": "f", "type": "quantitative", "axis": null, "scale": {"domain": [0.0446, 0.9911], "nice": false, "zero": false}},
"y": {"field": "m", "type": "quantitative", "axis": null, "scale": {"domain": [-0.73, 2.17], "nice": false, "zero": false}}
},
"layer": [
{"data": {"name": "floors"}, "transform": [{"filter": "datum.p == 2"}], "mark": {"type": "rule", "color": "#0000ff", "strokeWidth": 3.3}, "encoding": {"x2": {"field": "f2"}}},
{"data": {"name": "peaks"}, "transform": [{"filter": "datum.p == 2"}], "mark": {"type": "rule", "color": "#0000ff", "strokeWidth": 3.3}, "encoding": {"y2": {"field": "m2"}}},
{"data": {"values": [{"f": 0, "f2": 1, "m": -0.32}]}, "mark": {"type": "rule", "color": "black", "strokeWidth": 1.5}, "encoding": {"x2": {"field": "f2"}}},
{"data": {"values": [{"f": 0.392, "m": 2.51, "m2": 2.23}]}, "mark": {"type": "rule", "color": "black", "strokeWidth": 1.5}, "encoding": {"y2": {"field": "m2"}}},
{"data": {"values": [{"f": 0, "m": -0.32, "end": "L"}, {"f": 1, "m": -0.32, "end": "R"}, {"f": 0.392, "m": 2.23, "end": "D"}]}, "mark": {"type": "point", "filled": true, "size": 400, "color": "black", "opacity": 1, "strokeWidth": 0}, "encoding": {"shape": {"field": "end", "type": "nominal", "legend": null, "scale": {"domain": ["L", "R", "D", "A"], "range": ["M0,0L1.4,-0.38L1,0L1.4,0.38Z", "M0,0L-1.4,-0.38L-1,0L-1.4,0.38Z", "M0,0L-0.55,-2.05L0,-1.55L0.55,-2.05Z", "M0,0L-1.4,-0.5L-1,0L-1.4,0.5Z"]}}}},
{"data": {"values": [{"f": 0.509, "m": 2.01, "label": "df=x/2"}]}, "mark": {"type": "text", "align": "center", "baseline": "middle", "fontSize": 24, "color": "black"}, "encoding": {"text": {"field": "label"}}},
{"data": {"values": [{"f": 0.5, "m": -0.44, "label": "1 MHz"}]}, "mark": {"type": "text", "align": "center", "baseline": "middle", "fontSize": 18.5, "color": "black"}, "encoding": {"text": {"field": "label"}}}
]
},
{
"width": 106, "height": 290,
"encoding": {
"x": {"field": "f", "type": "quantitative", "axis": null, "scale": {"domain": [0.0446, 0.9911], "nice": false, "zero": false}},
"y": {"field": "m", "type": "quantitative", "axis": null, "scale": {"domain": [-0.73, 2.17], "nice": false, "zero": false}}
},
"layer": [
{"data": {"name": "floors"}, "transform": [{"filter": "datum.p == 3"}], "mark": {"type": "rule", "color": "#0000ff", "strokeWidth": 3.3}, "encoding": {"x2": {"field": "f2"}}},
{"data": {"name": "peaks"}, "transform": [{"filter": "datum.p == 3"}], "mark": {"type": "rule", "color": "#0000ff", "strokeWidth": 3.3}, "encoding": {"y2": {"field": "m2"}}},
{"data": {"values": [{"f": 0, "f2": 1, "m": -0.32}]}, "mark": {"type": "rule", "color": "black", "strokeWidth": 1.5}, "encoding": {"x2": {"field": "f2"}}},
{"data": {"values": [{"f": 0.117, "m": 2.51, "m2": 2.2}]}, "mark": {"type": "rule", "color": "black", "strokeWidth": 1.5}, "encoding": {"y2": {"field": "m2"}}},
{"data": {"values": [{"f": 0, "m": -0.32, "end": "L"}, {"f": 1, "m": -0.32, "end": "R"}, {"f": 0.117, "m": 2.2, "end": "D"}]}, "mark": {"type": "point", "filled": true, "size": 400, "color": "black", "opacity": 1, "strokeWidth": 0}, "encoding": {"shape": {"field": "end", "type": "nominal", "legend": null, "scale": {"domain": ["L", "R", "D", "A"], "range": ["M0,0L1.4,-0.38L1,0L1.4,0.38Z", "M0,0L-1.4,-0.38L-1,0L-1.4,0.38Z", "M0,0L-0.55,-2.05L0,-1.55L0.55,-2.05Z", "M0,0L-1.4,-0.5L-1,0L-1.4,0.5Z"]}}}},
{"data": {"values": [{"f": 0.509, "m": 2.01, "label": "df=x/2"}]}, "mark": {"type": "text", "align": "center", "baseline": "middle", "fontSize": 24, "color": "black"}, "encoding": {"text": {"field": "label"}}},
{"data": {"values": [{"f": 0.5, "m": -0.44, "label": "1 MHz"}]}, "mark": {"type": "text", "align": "center", "baseline": "middle", "fontSize": 18.5, "color": "black"}, "encoding": {"text": {"field": "label"}}},
{"data": {"values": [{"f": 0.259, "m": 2.39, "label": "FFT"}]}, "mark": {"type": "text", "align": "left", "baseline": "middle", "fontSize": 18.5, "color": "black"}, "encoding": {"text": {"field": "label"}}}
]
},
{
"width": 79, "height": 290,
"view": {"stroke": null},
"encoding": {
"x": {"field": "x", "type": "quantitative", "axis": null, "scale": {"domain": [0, 1], "nice": false, "zero": false}},
"y": {"field": "y", "type": "quantitative", "axis": null, "scale": {"domain": [0, 1], "nice": false, "zero": false, "reverse": true}}
},
"layer": [
{"data": {"values": [{"x": 0.544, "y": 0.386, "label": "Average"}]}, "mark": {"type": "text", "align": "center", "baseline": "middle", "fontSize": 18.5, "color": "black"}, "encoding": {"text": {"field": "label"}}},
{"data": {"values": [{"x": 0.272, "x2": 0.652, "y": 0.479}]}, "mark": {"type": "rule", "color": "black", "strokeWidth": 1.5}, "encoding": {"x2": {"field": "x2"}}},
{"data": {"values": [{"x": 0.652, "y": 0.479, "end": "A"}]}, "mark": {"type": "point", "filled": true, "size": 400, "color": "black", "opacity": 1, "strokeWidth": 0}, "encoding": {"shape": {"field": "end", "type": "nominal", "legend": null, "scale": {"domain": ["L", "R", "D", "A"], "range": ["M0,0L1.4,-0.38L1,0L1.4,0.38Z", "M0,0L-1.4,-0.38L-1,0L-1.4,0.38Z", "M0,0L-0.55,-2.05L0,-1.55L0.55,-2.05Z", "M0,0L-1.4,-0.5L-1,0L-1.4,0.5Z"]}}}}
]
},
{
"width": 99, "height": 290,
"encoding": {
"x": {"field": "f", "type": "quantitative", "axis": null, "scale": {"domain": [0.0545, 0.9545], "nice": false, "zero": false}},
"y": {"field": "m", "type": "quantitative", "axis": null, "scale": {"domain": [-0.73, 2.17], "nice": false, "zero": false}}
},
"layer": [
{"data": {"name": "floors"}, "transform": [{"filter": "datum.p == 4"}], "mark": {"type": "rule", "color": "#0000ff", "strokeWidth": 3.3}, "encoding": {"x2": {"field": "f2"}}},
{"data": {"name": "peaks"}, "transform": [{"filter": "datum.p == 4"}], "mark": {"type": "rule", "color": "#0000ff", "strokeWidth": 3.3}, "encoding": {"y2": {"field": "m2"}}},
{"data": {"values": [{"f": 0, "f2": 1, "m": -0.33}]}, "mark": {"type": "rule", "color": "black", "strokeWidth": 1.5}, "encoding": {"x2": {"field": "f2"}}},
{"data": {"values": [{"f": 0, "m": -0.33, "end": "L"}, {"f": 1, "m": -0.33, "end": "R"}]}, "mark": {"type": "point", "filled": true, "size": 400, "color": "black", "opacity": 1, "strokeWidth": 0}, "encoding": {"shape": {"field": "end", "type": "nominal", "legend": null, "scale": {"domain": ["L", "R", "D", "A"], "range": ["M0,0L1.4,-0.38L1,0L1.4,0.38Z", "M0,0L-1.4,-0.38L-1,0L-1.4,0.38Z", "M0,0L-0.55,-2.05L0,-1.55L0.55,-2.05Z", "M0,0L-1.4,-0.5L-1,0L-1.4,0.5Z"]}}}},
{"data": {"values": [{"f": 0.49, "m": 2.01, "label": "df=x/2"}]}, "mark": {"type": "text", "align": "center", "baseline": "middle", "fontSize": 24, "color": "black"}, "encoding": {"text": {"field": "label"}}},
{"data": {"values": [{"f": 0.5, "m": -0.44, "label": "1 MHz"}]}, "mark": {"type": "text", "align": "center", "baseline": "middle", "fontSize": 18.5, "color": "black"}, "encoding": {"text": {"field": "label"}}}
]
}
],
"spacing": 8.5,
"bounds": "flush"
}
],
"config": {
"view": {"stroke": "#222222", "strokeWidth": 1.6},
"font": "DejaVu Sans",
"axis": {"disable": true},
"legend": {"disable": true}
}
}
